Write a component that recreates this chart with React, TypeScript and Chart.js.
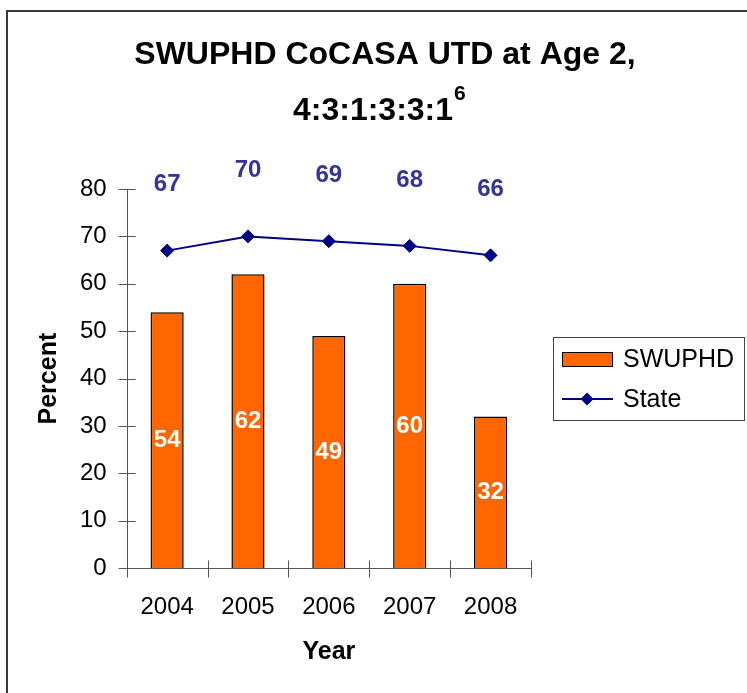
import React, { useEffect, useRef } from 'react';
import { Chart, registerables } from 'chart.js';

Chart.register(...registerables);

const years = ['2004', '2005', '2006', '2007', '2008'];
const swuphdValues = [54, 62, 49, 60, 32];
const stateValues = [67, 70, 69, 68, 66];
const yMin = 0;
const yMax = 80;
const yStep = 10;
const titleLine1 = 'SWUPHD CoCASA UTD at Age 2,';
const titleLine2 = '4:3:1:3:3:1';
const titleSup = '6';
const yTitle = 'Percent';
const xTitle = 'Year';
const seriesNames = ['SWUPHD', 'State'];

const FONT = '"Liberation Sans", Arial, sans-serif';
const ORANGE = '#FF6600';
const NAVY = '#000080';
const LABEL_BLUE = '#333399';
const AXIS = '#555555';

const decorPlugin = {
  id: 'decor',
  beforeDraw(chart: any) {
    const ctx = chart.ctx;
    ctx.save();
    ctx.fillStyle = '#ffffff';
    ctx.fillRect(0, 0, chart.width, chart.height);
    ctx.strokeStyle = '#3a3a3a';
    ctx.lineWidth = 2;
    ctx.beginPath();
    ctx.moveTo(7, chart.height + 2);
    ctx.lineTo(7, 11);
    ctx.lineTo(chart.width + 2, 11);
    ctx.stroke();
    ctx.restore();
  },
  afterDraw(chart: any) {
    const ctx = chart.ctx;
    const area = chart.chartArea;
    const xs = chart.scales.x;
    const ys = chart.scales.y;
    ctx.save();

    // axes lines
    ctx.strokeStyle = AXIS;
    ctx.lineWidth = 1;
    const axX = Math.round(area.left) + 0.5;
    const axY = Math.round(area.bottom) + 0.5;
    ctx.beginPath();
    ctx.moveTo(axX, area.top);
    ctx.lineTo(axX, axY);
    ctx.lineTo(area.right, axY);
    ctx.stroke();

    // y ticks crossing axis
    ys.ticks.forEach((t: any) => {
      const py = Math.round(ys.getPixelForValue(t.value)) + 0.5;
      ctx.beginPath();
      ctx.moveTo(axX - 9, py);
      ctx.lineTo(axX + 8, py);
      ctx.stroke();
    });
    // x ticks at category boundaries
    const n = years.length;
    for (let i = 0; i <= n; i++) {
      let px;
      if (i === 0) px = area.left;
      else if (i === n) px = area.right;
      else px = (xs.getPixelForValue(i - 1) + xs.getPixelForValue(i)) / 2;
      px = Math.round(px) + 0.5;
      ctx.beginPath();
      ctx.moveTo(px, axY - 8);
      ctx.lineTo(px, axY + 9);
      ctx.stroke();
    }

    // Title
    ctx.fillStyle = '#000000';
    ctx.textBaseline = 'middle';
    ctx.textAlign = 'center';
    ctx.font = `bold 32px ${FONT}`;
    ctx.fillText(titleLine1, 385, 55);
    const w2 = ctx.measureText(titleLine2).width;
    const x2 = 373 - w2 / 2;
    ctx.textAlign = 'left';
    ctx.fillText(titleLine2, x2, 111);
    ctx.font = `bold 21px ${FONT}`;
    ctx.fillText(titleSup, x2 + w2 + 1, 94);

    // Axis titles
    ctx.font = `bold 25px ${FONT}`;
    ctx.textAlign = 'center';
    ctx.fillText(xTitle, (area.left + area.right) / 2, 652);
    ctx.save();
    ctx.translate(49, (area.top + area.bottom) / 2);
    ctx.rotate(-Math.PI / 2);
    ctx.fillText(yTitle, 0, 0);
    ctx.restore();

    // Data labels
    ctx.font = `bold 24px ${FONT}`;
    const barMeta = chart.getDatasetMeta(0);
    ctx.fillStyle = '#ffffff';
    barMeta.data.forEach((el: any, i: number) => {
      ctx.fillText(String(swuphdValues[i]), el.x, (el.y + el.base) / 2);
    });
    const lineMeta = chart.getDatasetMeta(1);
    ctx.fillStyle = LABEL_BLUE;
    lineMeta.data.forEach((el: any, i: number) => {
      ctx.fillText(String(stateValues[i]), el.x, el.y - 66);
    });

    // Legend
    ctx.strokeStyle = '#444444';
    ctx.lineWidth = 1;
    ctx.strokeRect(553.5, 337.5, 191, 83);
    ctx.fillStyle = ORANGE;
    ctx.fillRect(562, 352, 51, 15);
    ctx.strokeStyle = '#000000';
    ctx.strokeRect(562.5, 352.5, 50, 14);
    ctx.strokeStyle = NAVY;
    ctx.lineWidth = 2;
    ctx.beginPath();
    ctx.moveTo(562, 399);
    ctx.lineTo(613, 399);
    ctx.stroke();
    ctx.fillStyle = NAVY;
    ctx.beginPath();
    ctx.moveTo(587, 392.5);
    ctx.lineTo(593.5, 399);
    ctx.lineTo(587, 405.5);
    ctx.lineTo(580.5, 399);
    ctx.closePath();
    ctx.fill();
    ctx.fillStyle = '#000000';
    ctx.font = `25px ${FONT}`;
    ctx.textAlign = 'left';
    ctx.fillText(seriesNames[0], 623, 360);
    ctx.fillText(seriesNames[1], 623, 400);

    ctx.restore();
  },
};

export default function App() {
  const ref = useRef<HTMLCanvasElement | null>(null);
  useEffect(() => {
    if (!ref.current) return;
    const chart = new Chart(ref.current, {
      type: 'bar',
      data: {
        labels: years,
        datasets: [
          {
            type: 'bar',
            label: seriesNames[0],
            data: swuphdValues,
            backgroundColor: ORANGE,
            borderColor: '#000000',
            borderWidth: 1.5,
            barPercentage: 0.41,
            categoryPercentage: 1,
            order: 2,
          },
          {
            type: 'line',
            label: seriesNames[1],
            data: stateValues,
            borderColor: NAVY,
            borderWidth: 2,
            pointStyle: 'rectRot',
            pointRadius: 6.5,
            pointBackgroundColor: NAVY,
            pointBorderColor: NAVY,
            pointBorderWidth: 1,
            tension: 0,
            order: 1,
          },
        ],
      },
      options: {
        responsive: false,
        animation: false,
        layout: { padding: { left: 60, top: 189, right: 216, bottom: 46 } },
        plugins: {
          legend: { display: false },
          title: { display: false },
          tooltip: { enabled: false },
        },
        scales: {
          x: {
            grid: { display: false, drawTicks: false },
            border: { display: false },
            ticks: { color: '#000000', font: { family: FONT, size: 24 }, padding: 25 },
          },
          y: {
            min: yMin,
            max: yMax,
            grid: { display: false, drawTicks: false },
            border: { display: false },
            ticks: { stepSize: yStep, color: '#000000', font: { family: FONT, size: 24 }, padding: 20 },
          },
        },
      },
      plugins: [decorPlugin],
    });
    return () => chart.destroy();
  }, []);
  return (
    <div style={{ position: 'absolute', left: 0, top: 0, width: 747, height: 693 }}>
      <canvas ref={ref} width={747} height={693} style={{ width: 747, height: 693 }} />
    </div>
  );
}
